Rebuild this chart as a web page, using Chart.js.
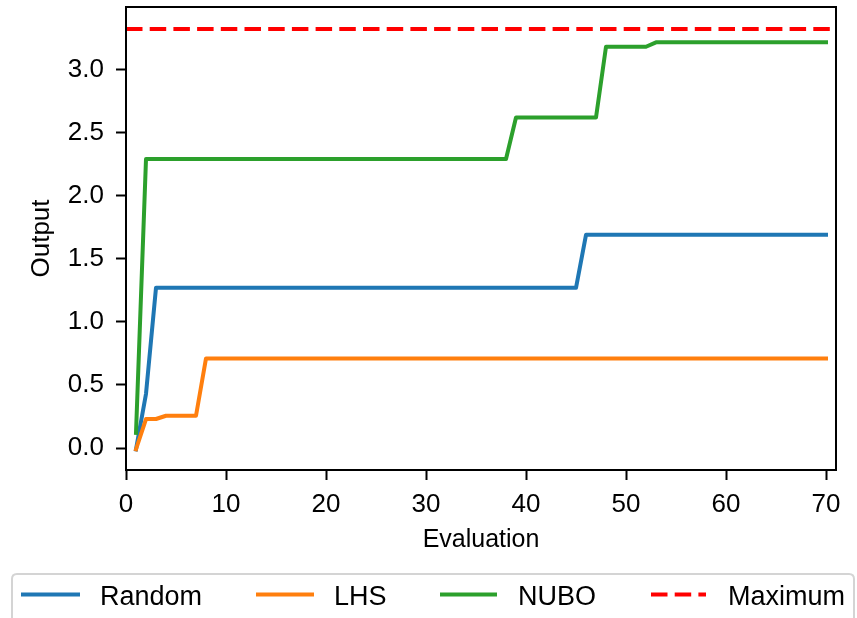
<!DOCTYPE html>
<html>
<head>
<meta charset="utf-8">
<script src="https://cdn.jsdelivr.net/npm/chart.js@4"></script>
<style>
html,body{margin:0;padding:0;background:#fff;}
#wrap{width:857px;height:618px;overflow:hidden;}
</style>
</head>
<body>
<div id="wrap"><canvas id="c" width="857" height="618"></canvas></div>
<script>
// ---- data ----
const evaluations = [1,2,3,4,5,6,7,8,9,10,11,12,13,14,15,16,17,18,19,20,21,22,23,24,25,26,27,28,29,30,31,32,33,34,35,36,37,38,39,40,41,42,43,44,45,46,47,48,49,50,51,52,53,54,55,56,57,58,59,60,61,62,63,64,65,66,67,68,69,70];
const randomVals = [-0.01,0.43,1.27,1.27,1.27,1.27,1.27,1.27,1.27,1.27,1.27,1.27,1.27,1.27,1.27,1.27,1.27,1.27,1.27,1.27,1.27,1.27,1.27,1.27,1.27,1.27,1.27,1.27,1.27,1.27,1.27,1.27,1.27,1.27,1.27,1.27,1.27,1.27,1.27,1.27,1.27,1.27,1.27,1.27,1.27,1.69,1.69,1.69,1.69,1.69,1.69,1.69,1.69,1.69,1.69,1.69,1.69,1.69,1.69,1.69,1.69,1.69,1.69,1.69,1.69,1.69,1.69,1.69,1.69,1.69];
const lhsVals = [-0.01,0.23,0.23,0.256,0.256,0.256,0.256,0.71,0.71,0.71,0.71,0.71,0.71,0.71,0.71,0.71,0.71,0.71,0.71,0.71,0.71,0.71,0.71,0.71,0.71,0.71,0.71,0.71,0.71,0.71,0.71,0.71,0.71,0.71,0.71,0.71,0.71,0.71,0.71,0.71,0.71,0.71,0.71,0.71,0.71,0.71,0.71,0.71,0.71,0.71,0.71,0.71,0.71,0.71,0.71,0.71,0.71,0.71,0.71,0.71,0.71,0.71,0.71,0.71,0.71,0.71,0.71,0.71,0.71,0.71];
const nuboVals = [0.12,2.29,2.29,2.29,2.29,2.29,2.29,2.29,2.29,2.29,2.29,2.29,2.29,2.29,2.29,2.29,2.29,2.29,2.29,2.29,2.29,2.29,2.29,2.29,2.29,2.29,2.29,2.29,2.29,2.29,2.29,2.29,2.29,2.29,2.29,2.29,2.29,2.29,2.62,2.62,2.62,2.62,2.62,2.62,2.62,2.62,2.62,3.18,3.18,3.18,3.18,3.18,3.215,3.215,3.215,3.215,3.215,3.215,3.215,3.215,3.215,3.215,3.215,3.215,3.215,3.215,3.215,3.215,3.215,3.215];
const maximumX = [0, 71];
const maximumVal = 3.32;
const seriesLabels = ['Random','LHS','NUBO','Maximum'];
const xTicks = [0,10,20,30,40,50,60,70];
const yTicks = [0.0,0.5,1.0,1.5,2.0,2.5,3.0];
const xRange = [0, 71];
const yRange = [-0.174, 3.495];
const colors = ['#1f77b4','#ff7f0e','#2ca02c','#ff0000'];

// ---- build ----
const toPts = vals => evaluations.map((x,i)=>({x:x, y:vals[i]}));
const FONT = "'Liberation Sans', Arial, sans-serif";
const DASH = [16.5, 7.2];

const spines = {
  id:'spines',
  afterDatasetsDraw(chart){
    const {ctx, chartArea:a} = chart;
    ctx.save();
    ctx.strokeStyle = '#000';
    ctx.lineWidth = 2;
    ctx.strokeRect(a.left, a.top, a.right-a.left, a.bottom-a.top);
    ctx.restore();
  }
};

const legendBox = {
  id:'legendBox',
  afterDraw(chart){
    const ctx = chart.ctx;
    ctx.save();
    const x=12, y=574, w=842, h=70, r=5;
    ctx.beginPath();
    ctx.moveTo(x+r,y); ctx.lineTo(x+w-r,y); ctx.quadraticCurveTo(x+w,y,x+w,y+r);
    ctx.lineTo(x+w,y+h); ctx.lineTo(x,y+h); ctx.lineTo(x,y+r); ctx.quadraticCurveTo(x,y,x+r,y);
    ctx.closePath();
    ctx.fillStyle='rgba(255,255,255,0.8)';
    ctx.fill();
    ctx.strokeStyle='#d4d4d4';
    ctx.lineWidth=2;
    ctx.stroke();
    const items = [
      {x0:21, x1:80, tx:100},
      {x0:256, x1:314, tx:334},
      {x0:440, x1:497, tx:518},
      {x0:651, x1:706, tx:728}
    ];
    chart.data.datasets.forEach((ds,i)=>{
      const it = items[i];
      ctx.beginPath();
      ctx.setLineDash(ds.borderDash || []);
      ctx.lineCap = 'butt';
      ctx.strokeStyle = ds.borderColor;
      ctx.lineWidth = 4;
      ctx.moveTo(it.x0, 594.5); ctx.lineTo(it.x1, 594.5);
      ctx.stroke();
      ctx.setLineDash([]);
      ctx.fillStyle = '#000';
      ctx.font = "27px " + FONT;
      ctx.textBaseline = 'alphabetic';
      ctx.textAlign = 'left';
      ctx.fillText(ds.label, it.tx, 605);
    });
    ctx.restore();
  }
};

new Chart(document.getElementById('c'), {
  type:'line',
  data:{
    datasets:[
      {label:seriesLabels[0], data:toPts(randomVals), borderColor:colors[0], order:4},
      {label:seriesLabels[1], data:toPts(lhsVals), borderColor:colors[1], order:3},
      {label:seriesLabels[2], data:toPts(nuboVals), borderColor:colors[2], order:2},
      {label:seriesLabels[3], data:maximumX.map(x=>({x:x,y:maximumVal})), borderColor:colors[3], borderDash:DASH, borderCapStyle:'butt', order:1}
    ]
  },
  options:{
    responsive:false,
    animation:false,
    devicePixelRatio:1,
    layout:{padding:{top:7, right:21, left:0, bottom:59}},
    elements:{
      point:{radius:0, hoverRadius:0},
      line:{borderWidth:4, tension:0, fill:false, borderJoinStyle:'round', borderCapStyle:'square'}
    },
    plugins:{legend:{display:false}, tooltip:{enabled:false}},
    scales:{
      x:{
        type:'linear', min:xRange[0], max:xRange[1],
        afterBuildTicks(s){ s.ticks = xTicks.map(v=>({value:v})); },
        afterFit(s){ s.height = 89; s.paddingLeft = 0; s.paddingRight = 0; },
        border:{display:false},
        grid:{drawOnChartArea:false, drawTicks:true, tickLength:10, tickWidth:2, tickColor:'#000'},
        ticks:{color:'#000', font:{family:FONT, size:26}, padding:9, maxRotation:0, autoSkip:false,
               callback:v=>String(v)},
        title:{display:true, text:'Evaluation', color:'#000', font:{family:FONT, size:25}, padding:{top:4,bottom:4}}
      },
      y:{
        type:'linear', min:yRange[0], max:yRange[1],
        afterBuildTicks(s){ s.ticks = yTicks.map(v=>({value:v})); },
        afterFit(s){ s.width = 126; s.paddingTop = 0; s.paddingBottom = 0; },
        border:{display:false},
        grid:{drawOnChartArea:false, drawTicks:true, tickLength:10, tickWidth:2, tickColor:'#000'},
        ticks:{color:'#000', font:{family:FONT, size:26}, padding:12, autoSkip:false,
               callback:v=>Number(v).toFixed(1)},
        title:{display:true, text:'Output', color:'#000', font:{family:FONT, size:26}, padding:{top:26,bottom:0}}
      }
    }
  },
  plugins:[spines, legendBox]
});
</script>
</body>
</html>
